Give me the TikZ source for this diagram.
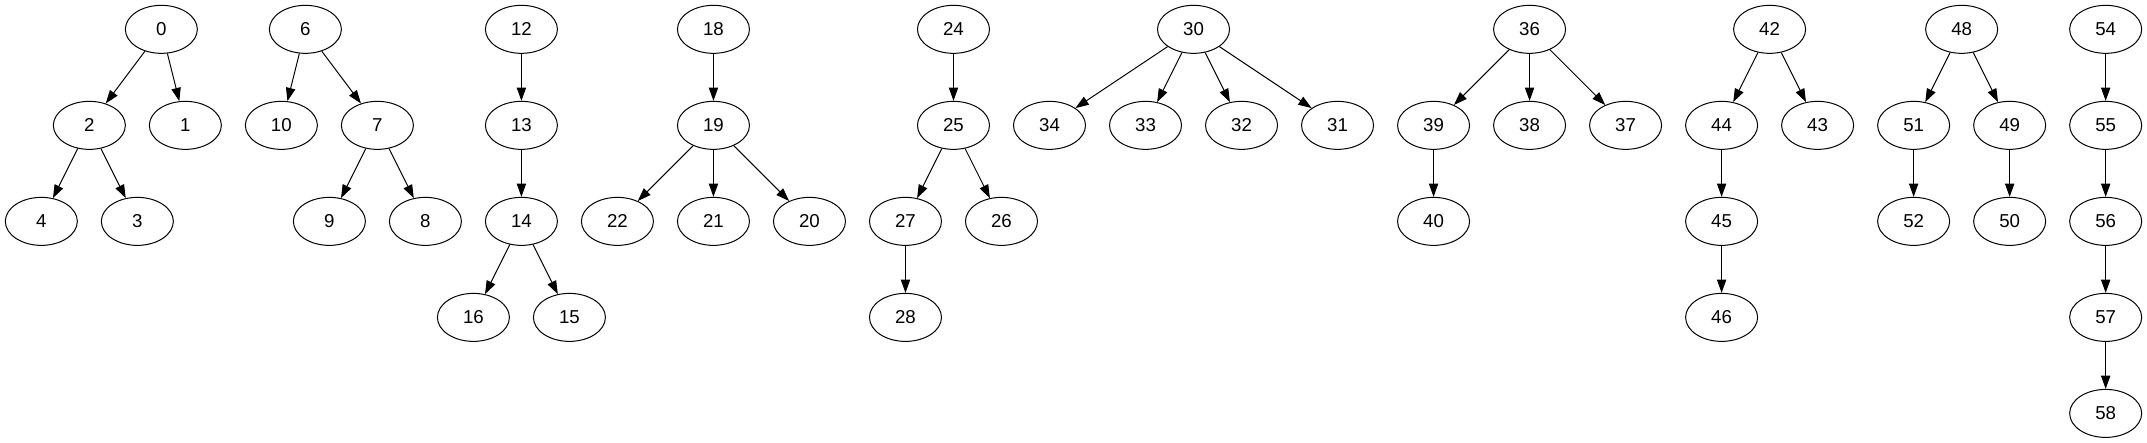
\documentclass[tikz,border=0pt]{standalone}
\usepackage{fontspec}
\setmainfont{Liberation Sans}
\usetikzlibrary{shapes.geometric,arrows.meta}
\tikzset{
  gnode/.style={draw, ellipse, line width=0.75pt, inner sep=0pt, minimum width=54pt, minimum height=36pt, font=\fontsize{14pt}{16pt}\selectfont},
  gedge/.style={line width=0.75pt, -{Triangle[length=10pt,width=7pt]}}
}
\begin{document}
\begin{tikzpicture}[x=1pt,y=-1pt]
\useasboundingbox (0,0) rectangle (1610,332);
\foreach \n/\x/\y in {0/121/22, 2/67/94, 1/139/94, 4/31/166, 3/103/166,
  6/229/22, 10/211/94, 7/283/94, 9/247/166, 8/319/166,
  12/391/22, 13/391/94, 14/391/166, 16/355/238, 15/427/238,
  18/535/22, 19/535/94, 22/463/166, 21/535/166, 20/607/166,
  24/715/22, 25/715/94, 27/679/166, 26/751/166, 28/679/238,
  30/895/22, 34/787/94, 33/859/94, 32/931/94, 31/1003/94,
  36/1147/22, 39/1075/94, 38/1147/94, 37/1219/94, 40/1075/166,
  42/1327/22, 44/1291/94, 43/1363/94, 45/1291/166, 46/1291/238,
  48/1471/22, 51/1435/94, 49/1507/94, 52/1435/166, 50/1507/166,
  54/1579/22, 55/1579/94, 56/1579/166, 57/1579/238, 58/1579/310}
  \node[gnode] (n\n) at (\x,\y) {\n};
\foreach \a/\b in {0/2, 0/1, 2/4, 2/3,
  6/10, 6/7, 7/9, 7/8,
  12/13, 13/14, 14/16, 14/15,
  18/19, 19/22, 19/21, 19/20,
  24/25, 25/27, 25/26, 27/28,
  30/34, 30/33, 30/32, 30/31,
  36/39, 36/38, 36/37, 39/40,
  42/44, 42/43, 44/45, 45/46,
  48/51, 48/49, 51/52, 49/50,
  54/55, 55/56, 56/57, 57/58}
  \draw[gedge] (n\a) -- (n\b);
\end{tikzpicture}
\end{document}
